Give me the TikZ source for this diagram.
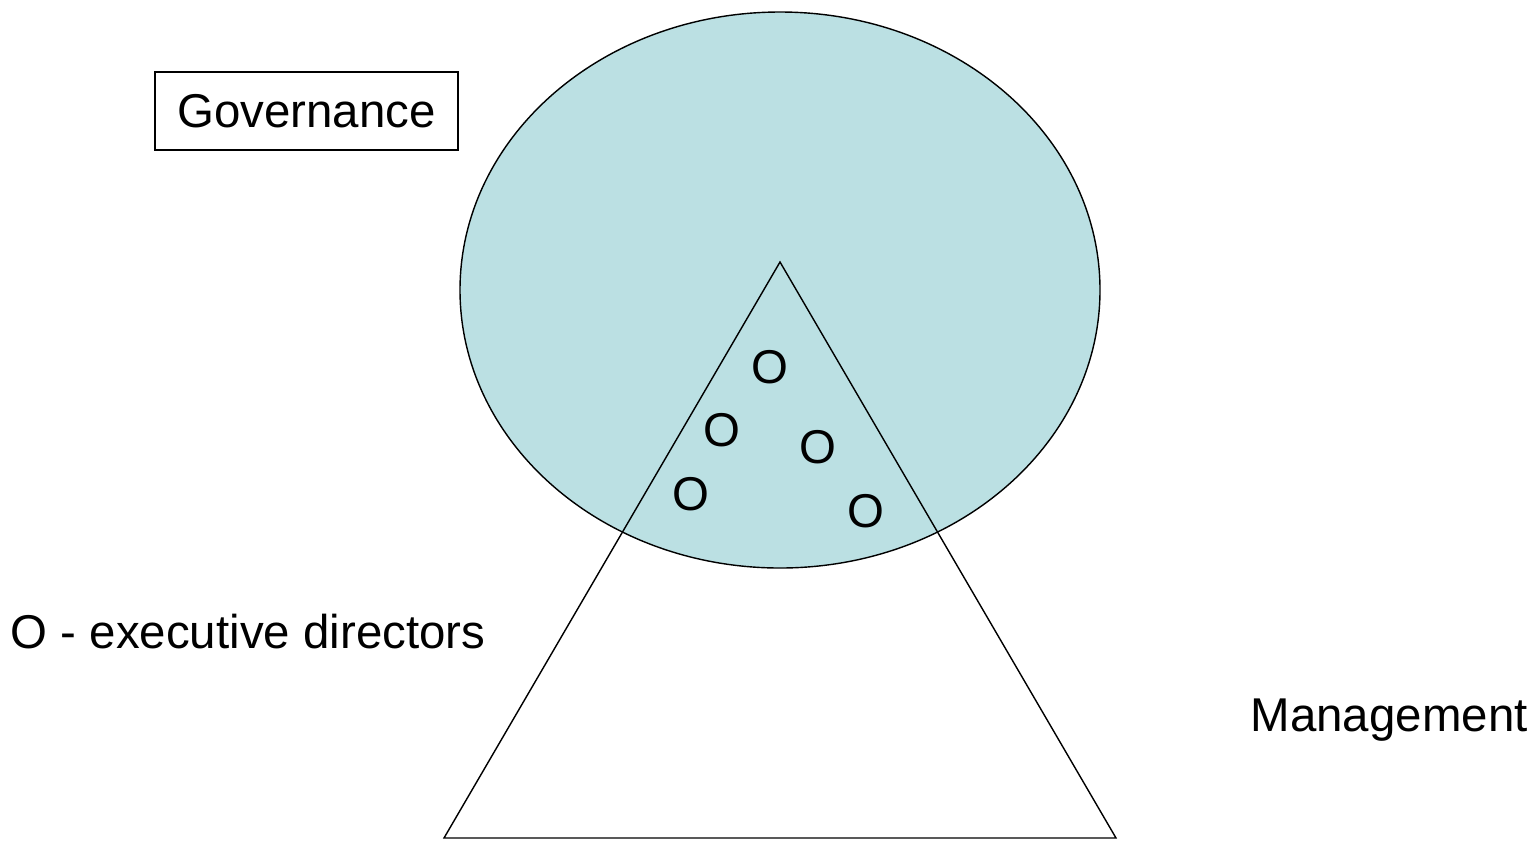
\documentclass[tikz,border=0pt]{standalone}
\usepackage{fontspec}
\setmainfont{Liberation Sans}
\usepackage{xcolor}
\definecolor{GovBlue}{HTML}{BBE0E3}
\usetikzlibrary{positioning}

\begin{document}
\begin{tikzpicture}[x=0.02cm, y=-0.02cm, line width=0.8pt, every node/.style={font=\fontsize{27}{32}\selectfont, inner sep=0pt}]
        \useasboundingbox (0,0) rectangle (1537,840);
        % Governance circle and management pyramid
        \path [draw, fill=GovBlue] (780,290) ellipse [x radius=320, y radius=278];
        \coordinate (apex) at (780,262);
        \coordinate (baseL) at (444,838);
        \coordinate (baseR) at (1116,838);
        \path [draw] (apex) -- (baseR) -- (baseL) -- cycle;

        % Executive directors
        \node (d1) at (770,367) {O};
        \node (d2) at (722,430) {O};
        \node (d3) at (818,447) {O};
        \node (d4) at (691,494) {O};
        \node (d5) at (866,511) {O};

        % Labels
        \node [draw, line width=0.8pt, minimum width=6.06cm, minimum height=1.56cm] (gov) at (306.5,111) {Governance};
        \node [anchor=west] (legend) at (10,632) {O - executive directors};
        \node [anchor=west] (mgmt) at (1250,720) {Management};
    \end{tikzpicture}
\end{document}
